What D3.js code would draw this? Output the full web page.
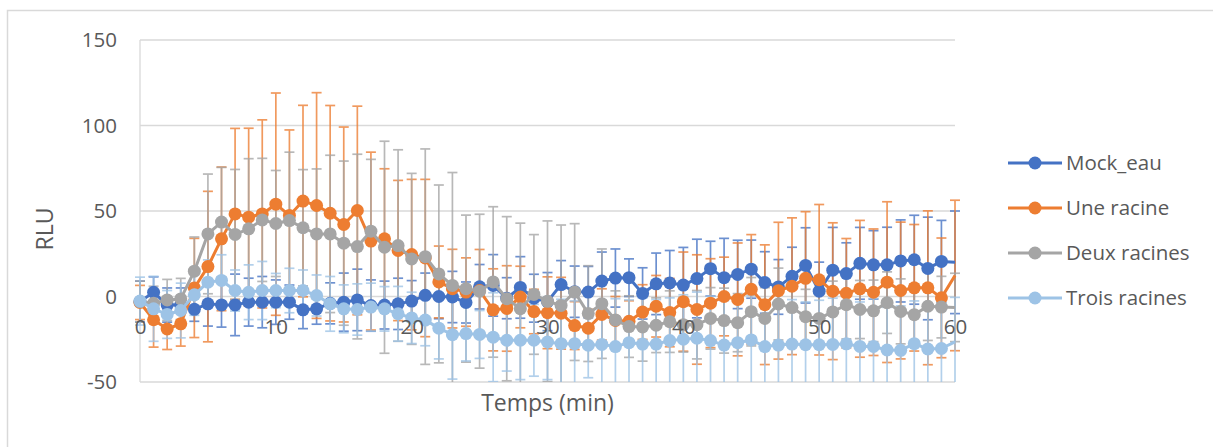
<!DOCTYPE html>
<html>
<head>
<meta charset="utf-8">
<script src="https://cdn.jsdelivr.net/npm/d3@7"></script>
<style>
  body { margin: 0; background: #fff; }
  svg text { font-family: "Open Sans", sans-serif; fill: #595959; }
</style>
</head>
<body>
<svg id="chart" width="1213" height="447"></svg>
<script>
// minutes
const time = [0, 1, 2, 3, 4, 5, 6, 7, 8, 9, 10, 11, 12, 13, 14, 15, 16, 17, 18, 19, 20,
  21, 22, 23, 24, 25, 26, 27, 28, 29, 30, 31, 32, 33, 34, 35, 36, 37, 38, 39, 40,
  41, 42, 43, 44, 45, 46, 47, 48, 49, 50, 51, 52, 53, 54, 55, 56, 57, 58, 59, 60];

const mockEau = [-3, 2.5, -5, -5, -7.5, -4.3, -4.9, -4.9, -3.3, -3.3,
  -3.3, -3.3, -7.8, -7.2, -4, -3.3, -2, -5.3, -5, -4.3,
  -2.7, 0.7, 0, -0.3, -3.5, 5.7, 6.5, -1, 5.3, -1,
  -3, 7, 2.8, 2.6, 9, 10.8, 11, 1.8, 7.4, 7.9,
  6.7, 10.5, 16.3, 11, 12.9, 16, 8.2, 5.6, 11.8, 18.2,
  3.1, 15.4, 13.4, 19.4, 18.5, 18.5, 20.8, 21.5, 16.4, 20.5,
  20];
const mockEauErr = [12, 9, 10, 10, 7, 13, 13, 18, 14, 15,
  13, 10, 11, 9, 12, 17, 18, 15, 14, 15,
  12, 13, 13, 15, 12, 13, 18, 12, 18, 14,
  17, 14, 15, 15, 17, 17, 11, 15, 18, 19,
  22, 23, 16, 23, 20, 17, 18, 16, 17, 22,
  17, 25, 18, 21, 20, 22, 24, 26, 30, 24,
  30];

const uneRacine = [-3.5, -13.6, -19, -16, 5, 17.5, 33.7, 48.3, 46.4, 48.3,
  54, 47.4, 55.8, 53.2, 48.7, 42.1, 50.3, 32.4, 33.7, 26.9,
  24.5, 22.5, 8.5, 4.6, 2.6, 3.5, -7.8, -7, -0.3, -8.8,
  -9.5, -9.8, -17, -18.5, -10.5, -14, -14.5, -9.1, -5.7, -9.4,
  -3, -7.6, -3.9, 0, -1.7, 4.2, -4.8, 3.4, 6, 10.6,
  9.8, 3.1, 1.9, 4.5, 2.5, 8.4, 3.5, 5.1, 5.1, -0.8,
  12.3];
const uneRacineErr = [10, 16, 12, 13, 29, 44, 42, 50, 52, 55,
  65, 50, 56, 66, 63, 57, 61, 52, 41, 41,
  44, 46, 21, 23, 20, 24, 24, 25, 18, 13,
  21, 21, 14, 11, 15, 14, 12, 16, 18, 20,
  29, 32, 26, 23, 33, 32, 35, 40, 40, 39,
  44, 40, 32, 40, 37, 47, 40, 37, 45, 35,
  44];

const deuxRacines = [-3, -4, -2, -1.4, 14.8, 36.6, 43.5, 36.3, 39.6, 44.8,
  42.7, 44.4, 40.2, 36.6, 36.6, 31.2, 29.2, 38.2, 28.8, 29.8,
  22, 23.3, 13.2, 6.5, 4.6, 3.1, 8.5, -1.3, -7.1, 1.2,
  -2.8, -5.2, 2.6, -10, -4.2, -13.7, -17.6, -17.8, -16.8, -14.7,
  -16.5, -16.5, -12.8, -14.1, -15.3, -8.9, -12.8, -4.4, -6.5, -11.8,
  -12.8, -9, -4.8, -7.6, -8.4, -3.6, -8.7, -10.6, -5.7, -6.2,
  -6.4];
const deuxRacinesErr = [12, 10, 12, 12, 20, 35, 32, 38, 41, 36,
  31, 40, 34, 38, 46, 48, 54, 42, 62, 56,
  50, 63, 52, 66, 43, 45, 44, 48, 50, 35,
  47, 47, 40, 28, 32, 17, 18, 20, 16, 18,
  16, 20, 18, 19, 17, 20, 18, 21, 20, 16,
  15, 18, 20, 17, 18, 18, 19, 18, 20, 18,
  20];

const troisRacines = [-2.7, -7.2, -10.5, -8.2, 1, 8.4, 9.4, 3.5, 2.5, 3.5,
  3.5, 3.5, 3.5, 0.6, -4.3, -7.2, -7.6, -6.2, -7.2, -10.1,
  -12.5, -13.8, -18.5, -22.3, -21.7, -22.2, -23.8, -25.6, -25.6, -25.6,
  -26.6, -27.6, -27.6, -28.5, -28, -29.3, -27, -27.8, -27.8, -25.8,
  -25, -24.4, -25.8, -28.4, -27, -25.4, -29.3, -28.4, -27.8, -28.2,
  -28.2, -28, -27.7, -29.2, -29.2, -31.3, -31.5, -27.6, -30.7, -30.4,
  -26.5];
const troisRacinesErr = [14, 19, 14, 16, 12, 13, 15, 12, 16, 17,
  10, 13, 12, 12, 16, 14, 15, 14, 13, 16,
  15, 15, 18, 26, 16, 14, 26, 18, 23, 21,
  22, 26, 25, 19, 26, 28, 25, 27, 26, 25,
  26, 27, 26, 26, 25, 26, 26, 25, 26, 25,
  26, 27, 25, 26, 28, 25, 26, 25, 26, 27,
  26];

const seriesNames = ['Mock_eau', 'Une racine', 'Deux racines', 'Trois racines'];
const xTicks = [0, 10, 20, 30, 40, 50, 60];
const yTicks = [-50, 0, 50, 100, 150];

const series = [
  { name: seriesNames[0], values: mockEau, err: mockEauErr, color: '#4472C4' },
  { name: seriesNames[1], values: uneRacine, err: uneRacineErr, color: '#ED7D31' },
  { name: seriesNames[2], values: deuxRacines, err: deuxRacinesErr, color: '#A5A5A5' },
  { name: seriesNames[3], values: troisRacines, err: troisRacinesErr, color: '#9DC3E6' }
];

const plot = { left: 140, right: 955, top: 40, bottom: 382 };
const svg = d3.select('#chart');

// chart frame
svg.append('rect').attr('x', 7.5).attr('y', 10.5).attr('width', 1230).attr('height', 460)
  .attr('fill', '#fff').attr('stroke', '#D9D9D9').attr('stroke-width', 1.5);

const x = d3.scaleLinear().domain([0, 60]).range([plot.left, plot.right]);
const y = d3.scaleLinear().domain([-50, 150]).range([plot.bottom, plot.top]);

svg.append('clipPath').attr('id', 'clipY').append('rect')
  .attr('x', 0).attr('y', plot.top).attr('width', 1213).attr('height', plot.bottom - plot.top);

// gridlines
svg.append('g').selectAll('line').data(yTicks).join('line')
  .attr('x1', plot.left).attr('x2', plot.right)
  .attr('y1', d => y(d)).attr('y2', d => y(d))
  .attr('stroke', '#D9D9D9').attr('stroke-width', 1.3);
svg.append('line').attr('x1', plot.left).attr('x2', plot.left)
  .attr('y1', plot.top).attr('y2', plot.bottom)
  .attr('stroke', '#D9D9D9').attr('stroke-width', 1.3);

// error bars
const errG = svg.append('g').attr('clip-path', 'url(#clipY)');
series.forEach(s => {
  const g = errG.append('g').attr('stroke', s.color).attr('stroke-width', 1.7).attr('opacity', 0.78);
  const pts = time.map((t, i) => ({ t: t, v: s.values[i], e: s.err[i] }));
  g.selectAll('.bar').data(pts).join('line').attr('class', 'bar')
    .attr('x1', d => x(d.t)).attr('x2', d => x(d.t))
    .attr('y1', d => y(d.v + d.e)).attr('y2', d => y(d.v - d.e));
  g.selectAll('.capTop').data(pts).join('line').attr('class', 'capTop')
    .attr('x1', d => x(d.t) - 5).attr('x2', d => x(d.t) + 5)
    .attr('y1', d => y(d.v + d.e)).attr('y2', d => y(d.v + d.e));
  g.selectAll('.capBot').data(pts).join('line').attr('class', 'capBot')
    .attr('x1', d => x(d.t) - 5).attr('x2', d => x(d.t) + 5)
    .attr('y1', d => y(d.v - d.e)).attr('y2', d => y(d.v - d.e));
});

// lines and markers
const line = d3.line().x((d, i) => x(time[i])).y(d => y(d));
series.forEach(s => {
  const g = svg.append('g');
  g.append('path').attr('d', line(s.values)).attr('fill', 'none')
    .attr('stroke', s.color).attr('stroke-width', 3).attr('stroke-linejoin', 'round');
  // last point at the axis edge has no marker in the original
  g.selectAll('circle').data(s.values.slice(0, -1)).join('circle')
    .attr('cx', (d, i) => x(time[i])).attr('cy', d => y(d)).attr('r', 6.5)
    .attr('fill', s.color);
});

// axes
const yAxis = svg.append('g').attr('transform', `translate(${plot.left},0)`)
  .call(d3.axisLeft(y).tickValues(yTicks).tickFormat(d => String(d)).tickSize(0).tickPadding(23));
yAxis.select('.domain').remove();
yAxis.selectAll('text').style('font-size', '20.5px').style('font-family', '"Open Sans", sans-serif').attr('fill', '#595959');

const xAxis = svg.append('g').attr('transform', `translate(0,${y(0)})`)
  .call(d3.axisBottom(x).tickValues(xTicks).tickFormat(d => String(d)).tickSize(0).tickPadding(23));
xAxis.select('.domain').remove();
xAxis.selectAll('text').style('font-size', '20.5px').style('font-family', '"Open Sans", sans-serif').attr('fill', '#595959');

// axis titles
svg.append('text').attr('x', (plot.left + plot.right) / 2).attr('y', 411)
  .attr('text-anchor', 'middle').style('font-size', '23px').text('Temps (min)');
svg.append('text').attr('transform', 'translate(53,229) rotate(-90)')
  .attr('text-anchor', 'middle').style('font-size', '23px').text('RLU');

// legend
const legend = svg.append('g').attr('transform', 'translate(1008,163)');
seriesNames.forEach((n, i) => {
  const row = legend.append('g').attr('transform', `translate(0,${i * 45})`);
  row.append('line').attr('x1', 0).attr('x2', 54).attr('y1', 0).attr('y2', 0)
    .attr('stroke', series[i].color).attr('stroke-width', 3);
  row.append('circle').attr('cx', 27).attr('cy', 0).attr('r', 6.5).attr('fill', series[i].color);
  row.append('text').attr('x', 58).attr('y', 0).attr('dy', '0.35em')
    .style('font-size', '20.5px').text(n);
});
</script>
</body>
</html>
